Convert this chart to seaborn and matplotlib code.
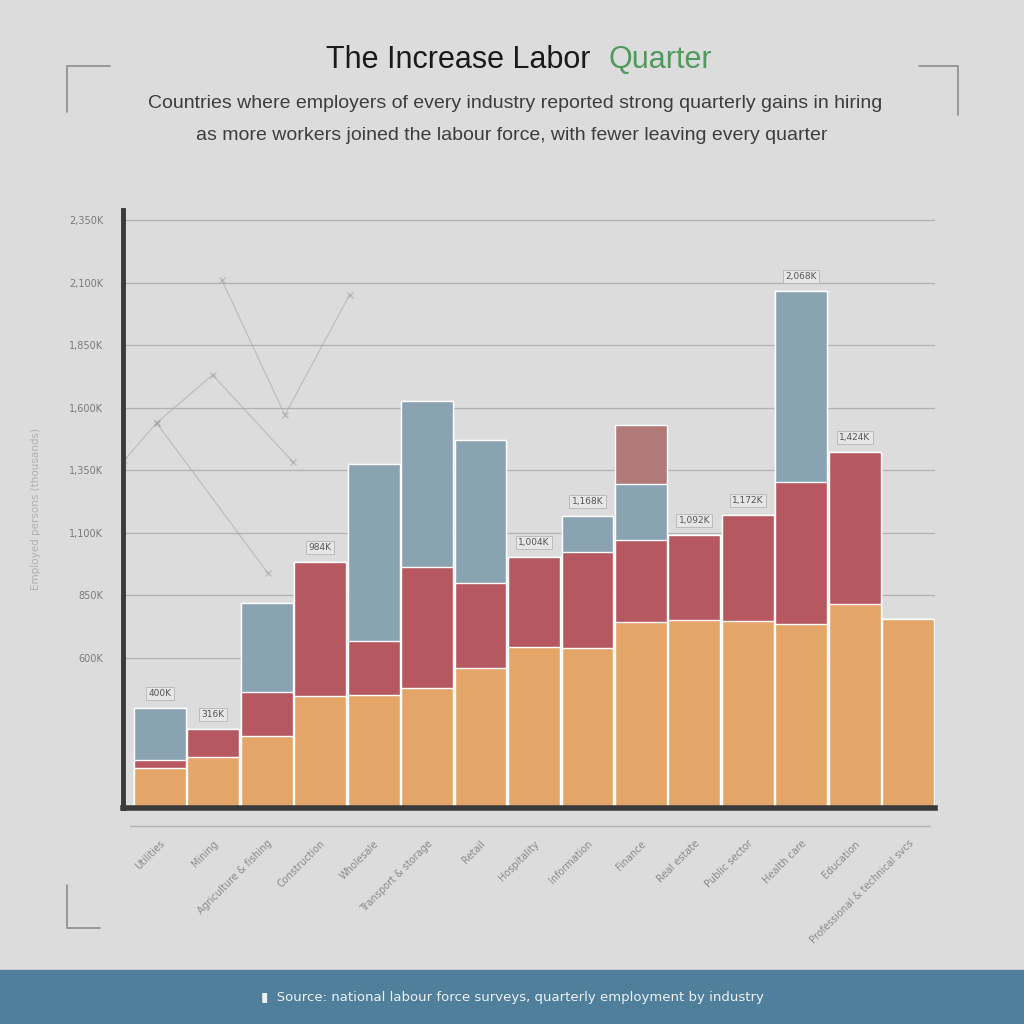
import numpy as np
import pandas as pd
import seaborn as sns
import matplotlib.pyplot as plt
from matplotlib.lines import Line2D

# data (thousands of workers)
sectors = ['Utilities', 'Mining', 'Agriculture & fishing', 'Construction', 'Wholesale',
           'Transport & storage', 'Retail', 'Hospitality', 'Information', 'Finance',
           'Real estate', 'Public sector', 'Health care', 'Education',
           'Professional & technical svcs']
base_q = [160, 204, 288, 448, 452, 480, 560, 644, 640, 744, 752, 748, 736, 816, 756]
growth_q = [32, 112, 176, 536, 216, 484, 340, 360, 384, 328, 340, 424, 568, 608, 0]
new_q = [208, 0, 356, 0, 708, 664, 572, 0, 144, 224, 0, 0, 764, 0, 0]
extra_q = [0, 0, 0, 0, 0, 0, 0, 0, 0, 236, 0, 0, 0, 0, 0]
yticks = [600, 850, 1100, 1350, 1600, 1850, 2100, 2350]

# faint trend sketch in the upper left
trend_x = [-0.66, -0.06, 0.99, 2.49]
trend_y = [1392, 1540, 1732, 1384]
trend2_x = [-0.06, 2.02]
trend2_y = [1540, 940]
trend3_x = [1.16, 2.34, 3.55]
trend3_y = [2112, 1572, 2052]

# totals callouts
callout_idx = [0, 1, 3, 7, 8, 10, 11, 12, 13]

df = pd.DataFrame({'sector': sectors, 'base': base_q, 'growth': growth_q,
                   'new': new_q, 'extra': extra_q})
df['s2'] = df['base'] + df['growth']
df['s3'] = df['s2'] + df['new']
df['s4'] = df['s3'] + df['extra']

bg = '#dcdcdd'
sns.set_theme(style='white')
plt.rcParams['font.family'] = ['DejaVu Sans']

fig = plt.figure(figsize=(10.24, 10.24), dpi=100, facecolor=bg)
ax = fig.add_axes([0.120, 0.211, 0.793, 0.584])
ax.set_facecolor(bg)

for y in yticks:
    ax.axhline(y, color='#b0b0b2', lw=0.9, zorder=0)

w = 0.97
sns.barplot(data=df, x='sector', y='s4', color='#b07a78', width=w, saturation=1, ax=ax, zorder=2)
sns.barplot(data=df, x='sector', y='s3', color='#8aa3b2', width=w, saturation=1, ax=ax, zorder=2)
sns.barplot(data=df, x='sector', y='s2', color='#b6585f', width=w, saturation=1, ax=ax, zorder=2)
sns.barplot(data=df, x='sector', y='base', color='#e4a569', width=w, saturation=1, ax=ax, zorder=2)

for xs, ys in [(trend_x, trend_y), (trend2_x, trend2_y), (trend3_x, trend3_y)]:
    ax.plot(xs, ys, color='#a0a0a2', lw=0.8, alpha=0.55, marker='x', ms=5, zorder=1)

for i in callout_idx:
    tot = df.loc[i, 's4']
    ax.text(i, tot + 40, f'{tot:,}K', ha='center', va='bottom', fontsize=6.5, color='#555555',
            bbox=dict(boxstyle='square,pad=0.25', fc='#e6e6e7', ec='#b5b5b5', lw=0.6), zorder=3)

ax.set_xlim(-0.69, 14.5)
ax.set_ylim(0, 2392)
ax.set_yticks(yticks)
ax.set_yticklabels([f'{v:,}K' for v in yticks], fontsize=7, color='#7a7a7a')
ax.set_xticks(range(len(sectors)))
ax.set_xticklabels(sectors, rotation=45, ha='right', rotation_mode='anchor',
                   fontsize=7, color='#8a8a8a')
ax.tick_params(axis='x', pad=22, length=0)
ax.tick_params(axis='y', pad=14, length=0)
ax.set_xlabel('')
ax.set_ylabel('Employed persons (thousands)', fontsize=7.5, color='#b0b0b0', labelpad=20)

for s in ['top', 'right']:
    ax.spines[s].set_visible(False)
ax.spines['left'].set_color('#3a3a3c')
ax.spines['left'].set_linewidth(3.5)
ax.spines['bottom'].set_color('#3a3a3c')
ax.spines['bottom'].set_linewidth(4)

# light rule under the axis
fig.add_artist(Line2D([0.127, 0.908], [1 - 826 / 1024] * 2, color='#b0b0b2', lw=1))

# corner brackets
bc = '#8c8c8e'
fig.add_artist(Line2D([0.065, 0.065, 0.107], [1 - 112 / 1024, 1 - 66 / 1024, 1 - 66 / 1024], color=bc, lw=1.2))
fig.add_artist(Line2D([0.897, 0.936, 0.936], [1 - 66 / 1024, 1 - 66 / 1024, 1 - 115 / 1024], color=bc, lw=1.2))
fig.add_artist(Line2D([0.065, 0.065, 0.098], [1 - 885 / 1024, 1 - 928 / 1024, 1 - 928 / 1024], color=bc, lw=1.2))

# titles
fig.text(0.577, 1 - 60 / 1024, 'The Increase Labor', ha='right', va='center',
         fontsize=22, color='#1a1a1a', family=['Liberation Sans', 'DejaVu Sans'])
fig.text(0.594, 1 - 60 / 1024, 'Quarter', ha='left', va='center',
         fontsize=22, color='#4f9a5c', family=['Liberation Sans', 'DejaVu Sans'])
fig.text(0.503, 1 - 104 / 1024,
         'Countries where employers of every industry reported strong quarterly gains in hiring',
         ha='center', va='center', fontsize=14, color='#3d3d3d',
         family=['Liberation Sans Narrow', 'Liberation Sans', 'DejaVu Sans'])
fig.text(0.500, 1 - 135 / 1024,
         'as more workers joined the labour force, with fewer leaving every quarter',
         ha='center', va='center', fontsize=14, color='#3d3d3d',
         family=['Liberation Sans Narrow', 'Liberation Sans', 'DejaVu Sans'])

# footer band
fig.add_artist(plt.Rectangle((0, 0), 1, 54 / 1024, transform=fig.transFigure,
                             color='#4f7f9a', zorder=0))
fig.text(0.5, 26 / 1024, '\u25AE  Source: national labour force surveys, quarterly employment by industry',
         ha='center', va='center', fontsize=9.5, color='#eef2f5')

fig.savefig('out.png', dpi=100, facecolor=bg)
